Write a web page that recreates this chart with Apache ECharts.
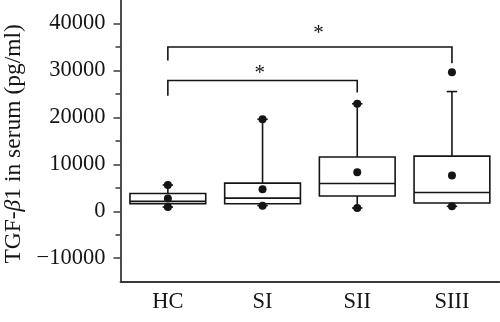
<!DOCTYPE html>
<html>
<head>
<meta charset="utf-8">
<script src="https://cdn.jsdelivr.net/npm/echarts@6/dist/echarts.min.js"></script>
<style>html,body{margin:0;padding:0;background:#fff;}#c{width:500px;height:322px;}</style>
</head>
<body>
<div id="c"></div>
<script>
const categories = ['HC', 'SI', 'SII', 'SIII'];
const whiskerLow = [900, 1200, 700, 1050];
const q1 = [1600, 1600, 3250, 1750];
const median = [2100, 2800, 5900, 4000];
const q3 = [3800, 6000, 11550, 11750];
const whiskerHigh = [5600, 19600, 22900, 25500];
const means = [2700, 4700, 8300, 7600];
const lowDots = [900, 1200, 700, 1050];
const highDots = [5600, 19600, 22900, 29600];
const yTickLabels = [-10000, 0, 10000, 20000, 30000, 40000];
const yMinorTicks = [-5000, 5000, 15000, 25000, 35000];
const bracketFrom = [0, 0];
const bracketTo = [3, 2];
const bracketY = [35000, 27850];
const bracketLegLeft = [32100, 24600];
const bracketLegRight = [31550, 25300];
const starX = [1.59, 0.97];
const starY = [37800, 29300];
const starText = ['*', '*'];

const FONT = '"Liberation Serif", "DejaVu Serif", serif';
const INK = '#151515';
const AXIS = '#3a3a3a';

const chart = echarts.init(document.getElementById('c'));

const boxData = categories.map((c, i) => [i, whiskerLow[i], q1[i], median[i], q3[i], whiskerHigh[i]]);
const bracketData = bracketFrom.map((f, i) => [f, bracketTo[i], bracketY[i], bracketLegLeft[i], bracketLegRight[i], starX[i], starY[i]]);

chart.setOption({
  animation: false,
  backgroundColor: '#fff',
  grid: { left: 120.5, right: 0.7, top: 0, bottom: 40.3, outerBoundsMode: 'none' },
  xAxis: {
    type: 'category',
    data: categories,
    boundaryGap: true,
    axisLine: { onZero: false, lineStyle: { color: AXIS, width: 1.8 } },
    axisTick: { alignWithLabel: true, length: 6, lineStyle: { color: AXIS, width: 1.5 } },
    axisLabel: { color: INK, fontFamily: FONT, fontSize: 22.5, margin: 9 },
    splitLine: { show: false }
  },
  yAxis: [{
    type: 'value',
    min: -15000,
    max: 45000,
    axisLine: { show: true, lineStyle: { color: AXIS, width: 1.8 } },
    axisTick: { show: true, length: 7, customValues: yTickLabels, lineStyle: { color: AXIS, width: 1.5 } },
    axisLabel: {
      customValues: yTickLabels,
      color: INK, fontFamily: FONT, fontSize: 22.5, margin: 15,
      formatter: v => (v < 0 ? '\u2212' + Math.abs(v) : String(v))
    },
    splitLine: { show: false },
    name: 'TGF-{i|\u03B2}1 in serum (pg/ml)',
    nameLocation: 'middle',
    nameGap: 94,
    nameTextStyle: {
      color: INK, fontFamily: FONT, fontSize: 23.5,
      padding: [0, 6, 0, 0],
      rich: { i: { fontStyle: 'italic', color: INK, fontFamily: FONT, fontSize: 23.5 } }
    }
  }, {
    type: 'value',
    position: 'left',
    offset: 0,
    min: -15000,
    max: 45000,
    axisLine: { show: false },
    axisTick: { show: true, length: 5, customValues: yMinorTicks, lineStyle: { color: AXIS, width: 1.5 } },
    axisLabel: { show: false },
    splitLine: { show: false }
  }],
  series: [
    {
      type: 'custom',
      data: boxData,
      encode: { x: 0, y: [1, 2, 3, 4, 5] },
      z: 2,
      renderItem: function (params, api) {
        const x = api.value(0);
        const band = api.size([1, 0])[0];
        const bw = band * 0.8;
        const cw = band * 0.11;
        const pLo = api.coord([x, api.value(1)]);
        const pQ1 = api.coord([x, api.value(2)]);
        const pMed = api.coord([x, api.value(3)]);
        const pQ3 = api.coord([x, api.value(4)]);
        const pHi = api.coord([x, api.value(5)]);
        const cx = pQ1[0];
        const st = { stroke: INK, lineWidth: 1.6, fill: null };
        return {
          type: 'group',
          children: [
            { type: 'line', shape: { x1: cx, y1: pQ3[1], x2: cx, y2: pHi[1] }, style: st },
            { type: 'line', shape: { x1: cx, y1: pQ1[1], x2: cx, y2: pLo[1] }, style: st },
            { type: 'line', shape: { x1: cx - cw / 2, y1: pHi[1], x2: cx + cw / 2, y2: pHi[1] }, style: st },
            { type: 'line', shape: { x1: cx - cw / 2, y1: pLo[1], x2: cx + cw / 2, y2: pLo[1] }, style: st },
            { type: 'rect', shape: { x: cx - bw / 2, y: pQ3[1], width: bw, height: pQ1[1] - pQ3[1] }, style: { stroke: INK, lineWidth: 1.6, fill: '#fff' } },
            { type: 'line', shape: { x1: cx - bw / 2, y1: pMed[1], x2: cx + bw / 2, y2: pMed[1] }, style: st }
          ]
        };
      }
    },
    {
      type: 'scatter',
      data: means,
      symbol: 'circle',
      symbolSize: 8,
      itemStyle: { color: INK, opacity: 1 },
      z: 5
    },
    {
      type: 'scatter',
      data: lowDots,
      symbol: 'circle',
      symbolSize: 8,
      itemStyle: { color: INK, opacity: 1 },
      z: 5
    },
    {
      type: 'scatter',
      data: highDots,
      symbol: 'circle',
      symbolSize: 8,
      itemStyle: { color: INK, opacity: 1 },
      z: 5
    },
    {
      type: 'custom',
      data: bracketData,
      encode: { x: [0, 1], y: [2, 3, 4, 6] },
      z: 3,
      renderItem: function (params, api) {
        const from = api.value(0), to = api.value(1);
        const y = api.value(2);
        const pL = api.coord([from, y]);
        const pR = api.coord([to, y]);
        const legL = api.coord([from, api.value(3)]);
        const legR = api.coord([to, api.value(4)]);
        const c0 = api.coord([0, y])[0], c1 = api.coord([1, y])[0];
        const sx = c0 + (c1 - c0) * api.value(5);
        const sy = api.coord([0, api.value(6)])[1];
        return {
          type: 'group',
          children: [
            { type: 'polyline', shape: { points: [[legL[0], legL[1]], [pL[0], pL[1]], [pR[0], pR[1]], [legR[0], legR[1]]] }, style: { stroke: INK, lineWidth: 1.6, fill: null } },
            { type: 'text', style: { text: starText[params.dataIndex], x: sx, y: sy, align: 'center', verticalAlign: 'middle', fontFamily: FONT, fontSize: 21, fill: INK } }
          ]
        };
      }
    }
  ]
});
</script>
</body>
</html>
